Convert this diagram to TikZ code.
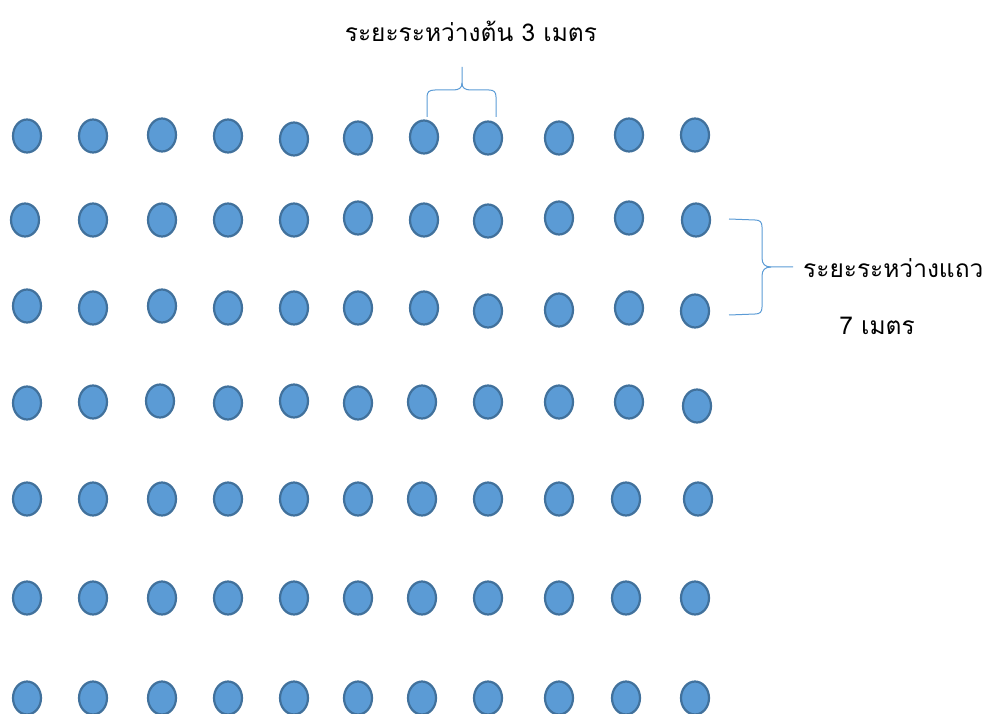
\documentclass[tikz,border=0pt]{standalone}
\usepackage{fontspec}
\usetikzlibrary{shapes.geometric}
\newfontfamily\thaifont[Script=Thai]{Loma}
\definecolor{dotfill}{HTML}{5B9BD5}
\definecolor{dotline}{HTML}{41719C}
\definecolor{bracecol}{HTML}{5B9BD5}
\begin{document}
\begin{tikzpicture}[x=1pt,y=-1pt,
  dot/.style={ellipse,draw=dotline,fill=dotfill,line width=2.2pt,minimum width=28pt,minimum height=33pt,inner sep=0pt},
  bracepath/.style={draw=bracecol,line width=1pt},
  lbl/.style={font=\thaifont\fontsize{24.5}{28}\selectfont,text=black,inner sep=0pt}]
\useasboundingbox (0,0) rectangle (983,714);
% rows
\foreach \x/\y [count=\i] in {27/136,93/136,162/135,228/136,294/139,358/138,424/137,488/138,559/138,629/135,695/135}
  \node[dot] (r1c\i) at (\x,\y) {};
\foreach \x/\y [count=\i] in {25/220,93/220,162/220,228/220,294/220,358/218,424/220,488/221,559/218,629/218,696/220}
  \node[dot] (r2c\i) at (\x,\y) {};
\foreach \x/\y [count=\i] in {27/306,93/308,162/306,228/308,294/308,358/308,424/308,488/311,559/310,629/308,695/311}
  \node[dot] (r3c\i) at (\x,\y) {};
\foreach \x/\y [count=\i] in {27/403,93/402,160/401,228/403,294/401,358/403,422/402,488/402,559/402,629/402,697/406}
  \node[dot] (r4c\i) at (\x,\y) {};
\foreach \x/\y [count=\i] in {27/499,93/499,162/499,228/499,294/499,358/499,422/499,488/499,559/499,626/499,698/499}
  \node[dot] (r5c\i) at (\x,\y) {};
\foreach \x/\y [count=\i] in {27/598,93/598,162/598,228/598,294/598,358/598,422/598,488/598,559/598,626/598,695/598}
  \node[dot] (r6c\i) at (\x,\y) {};
\foreach \x/\y [count=\i] in {27/698,93/698,162/698,228/698,294/698,358/698,422/698,488/698,559/698,626/698,695/698}
  \node[dot] (r7c\i) at (\x,\y) {};
% labels
\node[lbl] (top) at (471,31) {ระยะระหว่างต้น 3 เมตร};
\node[lbl,anchor=west] (rowlbl) at (803,268) {ระยะระหว่างแถว};
\node[lbl] (rowdist) at (877,326) {7 เมตร};
% top brace
\path[bracepath] (427,117) -- (427,97) .. controls (427,92) and (429,90) .. (435,90)
  -- (453,90) .. controls (459,90) and (462,88) .. (462,83) -- (462,67);
\path[bracepath] (462,83) .. controls (462,88) and (465,90) .. (471,90)
  -- (489,90) .. controls (494,90) and (496,92) .. (496,97) -- (496,117);
% right brace
\path[bracepath] (729,219) -- (755,220) .. controls (760,220) and (762,222) .. (762,227)
  -- (762,258) .. controls (762,264) and (765,267) .. (771,267) -- (793,267);
\path[bracepath] (771,267) .. controls (765,267) and (762,270) .. (762,276)
  -- (762,307) .. controls (762,312) and (760,314) .. (755,314) -- (729,315);
\end{tikzpicture}
\end{document}
